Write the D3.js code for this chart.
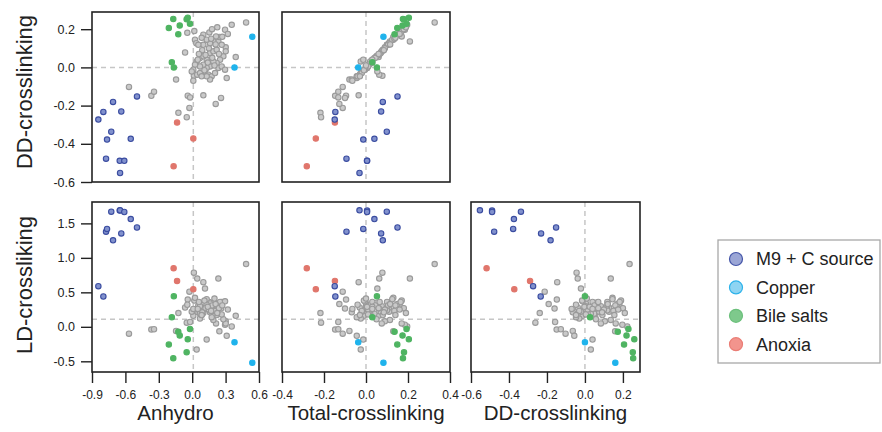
<!DOCTYPE html>
<style>
body { margin: 0; }
text { font-family: "Liberation Sans", Arial, sans-serif; fill: #222; }
</style>
<svg width="882" height="432"></svg>
<script src="https://d3js.org/d3.v7.min.js"></script>
<script>

// columns: anhydro, total-crosslinking, DD-crosslinking, LD-crosslinking
const other = [
	[-0.568, -0.111, -0.102, -0.10], [-0.367, -0.147, -0.149, -0.04], [-0.343, -0.132, -0.127, -0.035],
	[-0.145, -0.079, -0.064, -0.06], [-0.124, -0.217, -0.238, 0.20], [-0.049, -0.214, -0.261, 0.06],
	[-0.040, -0.095, -0.148, 0.395], [-0.019, -0.132, -0.157, 0.07], [-0.025, -0.111, -0.212, 0.51],
	[0.100, -0.035, -0.146, 0.647], [0.259, -0.100, -0.160, 0.265], [0.211, -0.127, -0.191, 0.33],
	[0.484, 0.327, 0.235, 0.91], [0.391, 0.060, 0.054, 0.16], [-0.064, 0.070, 0.078, 0.28],
	[0.015, 0.078, -0.044, 0.785], [0.045, 0.063, -0.038, 0.70], [0.115, 0.054, -0.021, 0.555],
	[0.235, 0.209, 0.136, 0.70], [0.040, -0.025, 0.031, -0.33], [0.130, -0.013, 0.040, -0.185],
	[0.310, -0.044, -0.056, -0.13], [0.355, 0.196, 0.223, 0.005], [0.295, 0.185, 0.197, 0.03],
	[0.244, 0.130, 0.159, -0.065], [0.214, 0.170, 0.162, 0.05], [0.190, 0.114, 0.136, 0.10],
	[0.301, 0.090, 0.105, 0.08], [0.301, 0.075, 0.084, 0.05], [0.280, 0.050, 0.058, 0.11],
	[-0.044, 0.160, 0.181, 0.32], [0.019, 0.170, 0.190, 0.38], [0.025, 0.130, 0.145, 0.42],
	[0.037, 0.110, 0.127, 0.22], [0.100, 0.150, 0.171, 0.33], [0.154, 0.165, 0.183, 0.36],
	[0.178, 0.180, 0.200, 0.27], [0.265, 0.100, 0.118, 0.36], [0.160, 0.110, 0.127, 0.28],
	[0.130, 0.125, 0.145, 0.40], [0.100, 0.100, 0.118, 0.24], [0.055, 0.105, 0.118, 0.31],
	[0.070, 0.040, 0.049, 0.19], [0.100, 0.050, 0.058, 0.35], [0.160, 0.070, 0.075, 0.22],
	[0.190, 0.075, 0.084, 0.30], [0.220, 0.080, 0.092, 0.17], [0.250, 0.030, 0.040, 0.36],
	[0.220, 0.025, 0.023, 0.25], [0.190, 0.020, 0.031, 0.19], [0.160, 0.000, 0.005, 0.34],
	[0.130, 0.005, -0.003, 0.26], [0.100, 0.015, 0.014, 0.20], [0.070, 0.000, 0.005, 0.30],
	[0.025, 0.010, 0.014, 0.25], [0.010, -0.010, -0.012, 0.16], [-0.004, -0.020, -0.021, 0.22],
	[0.070, -0.025, -0.030, 0.12], [0.145, -0.030, -0.038, 0.28], [0.175, -0.044, -0.047, 0.14],
	[0.205, -0.020, -0.030, 0.23], [0.235, 0.005, -0.003, 0.29], [0.265, 0.010, 0.005, 0.18],
	[0.295, -0.005, -0.012, 0.37], [0.160, -0.068, -0.064, 0.21], [0.130, -0.040, -0.047, 0.32],
	[0.085, -0.029, -0.047, 0.17], [0.010, -0.065, -0.070, 0.26], [0.120, 0.060, 0.065, 0.27],
	[0.150, 0.090, 0.100, 0.25], [0.180, 0.045, 0.050, 0.31], [0.090, 0.085, 0.090, 0.21],
	[0.210, 0.115, 0.120, 0.33], [0.140, 0.030, 0.025, 0.29], [0.060, 0.065, 0.070, 0.36],
	[0.170, 0.135, 0.150, 0.23], [0.240, 0.060, 0.070, 0.27], [0.110, -0.010, -0.015, 0.38],
	[0.200, 0.000, 0.010, 0.41], [0.270, 0.140, 0.160, 0.31], [0.050, 0.030, 0.040, 0.26],
	[0.085, 0.140, 0.155, 0.17], [0.225, 0.190, 0.210, 0.20], [0.320, 0.160, 0.175, 0.25]
];

const m9 = [
	[-0.843, -0.149, -0.273, 0.59], [-0.798, -0.146, -0.233, 0.44], [-0.774, -0.093, -0.478, 1.38],
	[-0.765, -0.013, -0.378, 1.42], [-0.727, 0.099, -0.337, 1.67], [-0.711, 0.080, -0.181, 1.255],
	[-0.651, 0.005, -0.489, 1.685], [-0.648, -0.031, -0.553, 1.69], [-0.637, 0.072, -0.231, 1.355],
	[-0.610, 0.005, -0.489, 1.665], [-0.552, 0.040, -0.374, 1.563], [-0.496, 0.150, -0.152, 1.44]
];

const copper = [
	[0.540, 0.083, 0.160, -0.52], [0.380, -0.037, 0.000, -0.225]
];

const bileSalts = [
	[-0.170, 0.176, 0.254, -0.455], [-0.050, 0.181, 0.252, -0.37], [-0.040, 0.204, 0.260, -0.18],
	[-0.112, 0.174, 0.219, -0.126], [-0.020, 0.193, 0.229, -0.03], [-0.210, 0.149, 0.206, -0.258],
	[-0.125, 0.136, 0.173, -0.072], [-0.183, 0.030, 0.027, 0.138], [-0.165, 0.052, 0.000, 0.442]
];

const anoxia = [
	[-0.167, -0.282, -0.518, 0.85], [-0.136, -0.148, -0.289, 0.665], [0.010, -0.239, -0.372, 0.545]
];

const legendNames = ['M9 + C source', 'Copper', 'Bile salts', 'Anoxia'];

const anhydroTicks = [-0.9, -0.6, -0.3, 0, 0.3, 0.6];
const totalTicks = [-0.4, -0.2, 0, 0.2, 0.4];
const ddTicks = [-0.6, -0.4, -0.2, 0, 0.2];
const ldTicks = [-0.5, 0, 0.5, 1, 1.5];

// reference (dashed) lines per variable
const refLines = [0.01, 0, 0, 0.11];

const groups = [
	{rows: other, fill: '#c9c9c9', stroke: '#9a9a9a'},
	{rows: anoxia, fill: '#e0766c', stroke: '#e0766c'},
	{rows: bileSalts, fill: '#4fb462', stroke: '#4fb462'},
	{rows: copper, fill: '#1fb3ec', stroke: '#1fb3ec'},
	{rows: m9, fill: '#8191cd', stroke: '#3a4ca0'}
];

const legendStyle = [
	{fill: '#9ba6d6', stroke: '#4455a8'},
	{fill: '#8ed4f2', stroke: '#2cb2ea'},
	{fill: '#7ec98c', stroke: '#6cc07c'},
	{fill: '#f2948d', stroke: '#ea7d75'}
];

const svg = d3.select('svg');
const fmt = (d) => d.toFixed(1);

const xScales = [
	d3.scaleLinear().domain([-0.9, 0.6]).range([92, 259]),
	d3.scaleLinear().domain([-0.4, 0.4]).range([282, 450]),
	d3.scaleLinear().domain([-0.6, 0.29]).range([471, 640])
];
const yDD = d3.scaleLinear().domain([-0.6, 0.29]).range([182, 12]);
const yLD = d3.scaleLinear().domain([-0.655, 1.81]).range([372, 202]);

const panels = [
	{xv: 0, yv: 2, x: xScales[0], y: yDD, xTicks: null, yTicks: ddTicks},
	{xv: 1, yv: 2, x: xScales[1], y: yDD, xTicks: null, yTicks: null},
	{xv: 0, yv: 3, x: xScales[0], y: yLD, xTicks: anhydroTicks, yTicks: ldTicks},
	{xv: 1, yv: 3, x: xScales[1], y: yLD, xTicks: totalTicks, yTicks: null},
	{xv: 2, yv: 3, x: xScales[2], y: yLD, xTicks: ddTicks, yTicks: null}
];

panels.forEach((p) => {
	const [x0, x1] = p.x.range();
	const [y1, y0] = p.y.range();
	const g = svg.append('g');

	g.append('line')
		.attr('x1', p.x(refLines[p.xv])).attr('x2', p.x(refLines[p.xv]))
		.attr('y1', y0).attr('y2', y1);
	g.append('line')
		.attr('x1', x0).attr('x2', x1)
		.attr('y1', p.y(refLines[p.yv])).attr('y2', p.y(refLines[p.yv]));
	g.selectAll('line')
		.attr('stroke', '#c6c6c6')
		.attr('stroke-width', 1.5)
		.attr('stroke-dasharray', '5,4');

	groups.forEach((grp) => {
		g.append('g').selectAll('circle')
			.data(grp.rows)
			.enter().append('circle')
			.attr('cx', (d) => p.x(d[p.xv]))
			.attr('cy', (d) => p.y(d[p.yv]))
			.attr('r', 2.7)
			.attr('fill', grp.fill)
			.attr('stroke', grp.stroke)
			.attr('stroke-width', 1.1);
	});

	g.append('rect')
		.attr('x', x0).attr('y', y0)
		.attr('width', x1 - x0).attr('height', y1 - y0)
		.attr('fill', 'none')
		.attr('stroke', '#222')
		.attr('stroke-width', 1.6);

	if (p.xTicks) {
		const ax = g.append('g')
			.attr('transform', `translate(0,${y1})`)
			.call(d3.axisBottom(p.x).tickValues(p.xTicks).tickFormat(fmt).tickSize(11).tickPadding(7));
		ax.select('.domain').remove();
		ax.selectAll('line').attr('stroke', '#222').attr('stroke-width', 1.4);
		ax.selectAll('text').attr('font-size', 12).attr('font-family', null);
	}
	if (p.yTicks) {
		const ay = g.append('g')
			.attr('transform', `translate(${x0},0)`)
			.call(d3.axisLeft(p.y).tickValues(p.yTicks).tickFormat(fmt).tickSize(11).tickPadding(6));
		ay.select('.domain').remove();
		ay.selectAll('line').attr('stroke', '#222').attr('stroke-width', 1.4);
		ay.selectAll('text').attr('font-size', 12.5).attr('font-family', null);
	}
});

// axis titles
const xTitles = ['Anhydro', 'Total-crosslinking', 'DD-crosslinking'];
svg.selectAll('.xtitle')
	.data(xTitles)
	.enter().append('text')
	.attr('class', 'xtitle')
	.attr('x', (d, i) => d3.mean(xScales[i].range()))
	.attr('y', 420)
	.attr('text-anchor', 'middle')
	.attr('font-size', 20.5)
	.text((d) => d);

svg.selectAll('.ytitle')
	.data([['DD-crosslinking', 92], ['LD-crossliking', 285]])
	.enter().append('text')
	.attr('class', 'ytitle')
	.attr('transform', (d) => `translate(32,${d[1]}) rotate(-90)`)
	.attr('text-anchor', 'middle')
	.attr('font-size', 22)
	.text((d) => d[0]);

// legend
const legend = svg.append('g');
legend.append('rect')
	.attr('x', 718).attr('y', 240)
	.attr('width', 162).attr('height', 123)
	.attr('fill', 'none')
	.attr('stroke', '#a8a8a8')
	.attr('stroke-width', 1.3);
const item = legend.selectAll('.item')
	.data(legendNames)
	.enter().append('g')
	.attr('class', 'item')
	.attr('transform', (d, i) => `translate(736,${259 + i * 28.4})`);
item.append('circle')
	.attr('r', 6.5)
	.attr('fill', (d, i) => legendStyle[i].fill)
	.attr('stroke', (d, i) => legendStyle[i].stroke)
	.attr('stroke-width', 1.2);
item.append('text')
	.attr('x', 20)
	.attr('dy', '0.35em')
	.attr('font-size', 18)
	.text((d) => d);

</script>
